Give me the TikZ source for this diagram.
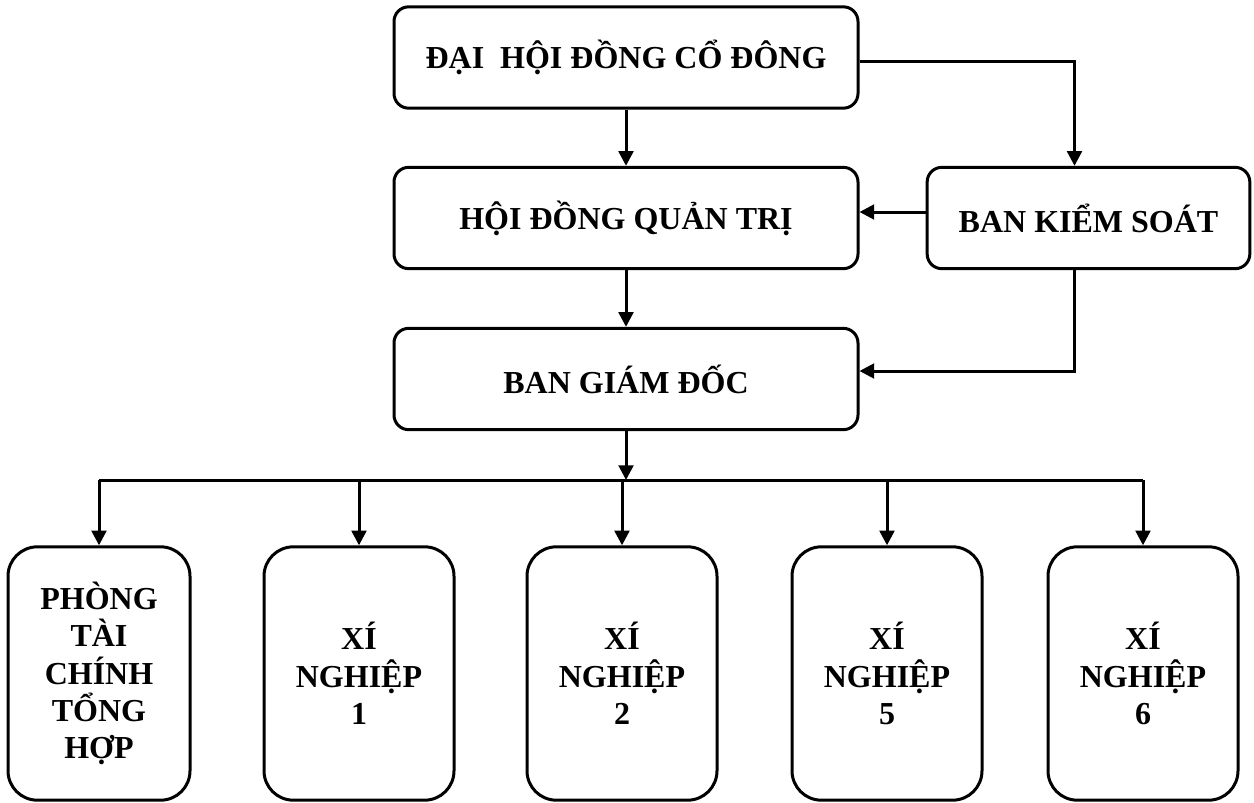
\documentclass[tikz,border=0pt]{standalone}
\usepackage{fontspec}
\setmainfont{Liberation Serif}
\usepackage{tikz}
\usetikzlibrary{arrows.meta, positioning, calc}

\begin{document}
\begin{tikzpicture}[
    x=0.75pt, y=-0.75pt,
    topbox/.style={rectangle, draw, line width=2.25pt, rounded corners=11pt, minimum width=348pt, minimum height=76pt, align=center, font=\fontsize{24}{28}\selectfont\bfseries},
    unitbox/.style={rectangle, draw, line width=2.25pt, rounded corners=22pt, minimum width=142.5pt, minimum height=190pt, align=center, font=\fontsize{24}{28}\selectfont\bfseries},
    arrow/.style={-{Triangle[length=11pt, width=11pt]}, line width=2.25pt},
    link/.style={line width=2.25pt}
]
\useasboundingbox (0,0) rectangle (1254,803);

\node[topbox] (dhdcd) at (626,57.5) {ĐẠI\ \ HỘI ĐỒNG CỔ ĐÔNG};
\node[topbox] (hdqt) at (626,218) {HỘI ĐỒNG QUẢN TRỊ};
\node[topbox, minimum width=242pt] (bks) at (1088.5,218) {BAN KIỂM SOÁT};
\node[topbox] (bgd) at (626,379) {BAN GIÁM ĐỐC};

\node[unitbox, minimum width=136.5pt] (ptc) at (99,673.5) {PHÒNG\\TÀI\\CHÍNH\\TỔNG\\HỢP};
\node[unitbox] (xn1) at (359,673.5) {XÍ\\NGHIỆP\\1};
\node[unitbox] (xn2) at (622,673.5) {XÍ\\NGHIỆP\\2};
\node[unitbox] (xn5) at (887,673.5) {XÍ\\NGHIỆP\\5};
\node[unitbox] (xn6) at (1143,673.5) {XÍ\\NGHIỆP\\6};

\coordinate (bus) at (626,480);

\draw[arrow] (dhdcd) -- (hdqt);
\draw[arrow] ([yshift=-3pt]dhdcd.east) -| ([xshift=-10.5pt]bks.north);
\draw[arrow] ([yshift=4.5pt]bks.west) -- ([yshift=4.5pt]hdqt.east);
\draw[arrow] (hdqt) -- (bgd);
\draw[arrow] ([xshift=-10.5pt]bks.south) |- ([yshift=6pt]bgd.east);
\draw[arrow] (bgd) -- (bus);
\draw[link] (ptc.north |- bus) -- (xn6.north |- bus);
\draw[arrow] (ptc.north |- bus) -- (ptc);
\draw[arrow] (xn1.north |- bus) -- (xn1);
\draw[arrow] (xn2.north |- bus) -- (xn2);
\draw[arrow] (xn5.north |- bus) -- (xn5);
\draw[arrow] (xn6.north |- bus) -- (xn6);
\end{tikzpicture}
\end{document}
